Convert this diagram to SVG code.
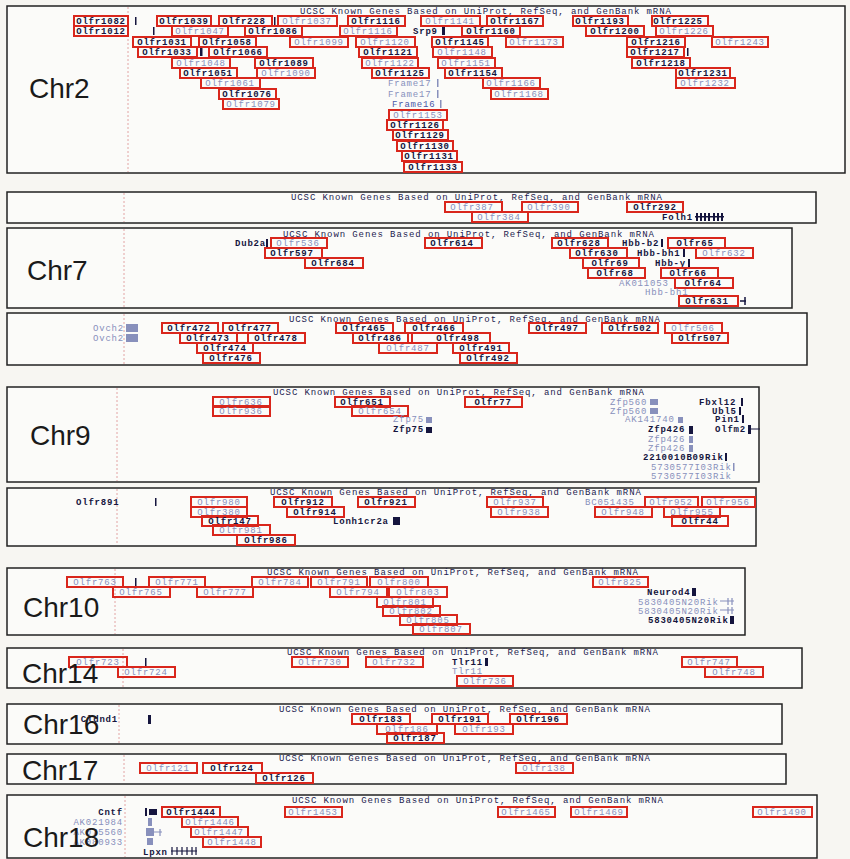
<svg xmlns="http://www.w3.org/2000/svg" width="850" height="859" viewBox="0 0 850 859">
<style>
.bg{fill:#f7f6f2}
.pb{fill:#fbfbf9;stroke:#222;stroke-width:1.5}
.dl{stroke:#e2a4a4;stroke-width:1;stroke-dasharray:2 2}
.hd{font-family:"Liberation Mono",monospace;font-size:9px;fill:#1c1c50;letter-spacing:0.9px}
.rb{fill:none;stroke:#d9261c;stroke-width:2}
.d,.ds,.de{font-family:"Liberation Mono",monospace;font-size:9px;font-weight:bold;fill:#15153e;letter-spacing:0.8px}
.l,.ls,.le{font-family:"Liberation Mono",monospace;font-size:9px;fill:#8890bc;letter-spacing:0.8px}
.d,.l{text-anchor:middle}
.de,.le{text-anchor:end}
.fb{font-family:"Liberation Mono",monospace;font-size:9px;fill:#4a58a8;letter-spacing:0.8px}
.ch{font-family:"Liberation Sans",Arial,sans-serif;font-size:28px;fill:#1a1a1a}
.tk{fill:#15153e}
.tl{fill:#8890bc}
</style>
<rect class="bg" x="0" y="0" width="850" height="859"/>

<g id="chr2">
<rect class="pb" x="7" y="6" width="838" height="167"/>
<line class="dl" x1="128" y1="7" x2="128" y2="172"/>
<text class="ch" x="29" y="98">Chr2</text>
<text class="hd" x="300" y="14">UCSC Known Genes Based on UniProt, RefSeq, and GenBank mRNA</text>
<rect class="rb" x="74" y="16" width="54" height="10"/><text class="d" x="101" y="24">Olfr1082</text>
<rect class="tk" x="135" y="17" width="1.5" height="8"/>
<rect class="rb" x="157" y="16" width="54" height="10"/><text class="d" x="184" y="24">Olfr1039</text>
<rect class="rb" x="219" y="16" width="53" height="10"/><text class="d" x="244" y="24">Olfr228</text>
<rect class="tk" x="274" y="17" width="1.5" height="8"/>
<rect class="rb" x="278" y="16" width="59" height="10"/><text class="l" x="307" y="24">Olfr1037</text>
<rect class="rb" x="348" y="16" width="57" height="10"/><text class="d" x="376" y="24">Olfr1116</text>
<rect class="rb" x="421" y="16" width="59" height="10"/><text class="l" x="450" y="24">Olfr1141</text>
<rect class="rb" x="487" y="16" width="56" height="10"/><text class="d" x="515" y="24">Olfr1167</text>
<rect class="rb" x="573" y="16" width="55" height="10"/><text class="d" x="600" y="24">Olfr1193</text>
<rect class="rb" x="652" y="16" width="56" height="10"/><text class="d" x="678" y="24">Olfr1225</text>

<rect class="rb" x="74" y="26" width="54" height="10"/><text class="d" x="101" y="34">Olfr1012</text>
<rect class="tk" x="153" y="27" width="1.5" height="8"/>
<rect class="rb" x="172" y="26" width="56" height="10"/><text class="l" x="200" y="34">Olfr1047</text>
<rect class="rb" x="245" y="26" width="57" height="10"/><text class="d" x="273" y="34">Olfr1086</text>
<rect class="rb" x="340" y="26" width="57" height="10"/><text class="l" x="368" y="34">Olfr1116</text>
<text class="ds" x="413" y="34">Srp9</text><rect class="tk" x="442" y="27" width="3" height="8"/>
<rect class="rb" x="462" y="26" width="58" height="10"/><text class="d" x="491" y="34">Olfr1160</text>
<rect class="rb" x="586" y="26" width="58" height="10"/><text class="d" x="615" y="34">Olfr1200</text>
<rect class="rb" x="656" y="26" width="57" height="10"/><text class="l" x="684" y="34">Olfr1226</text>

<rect class="rb" x="133" y="37" width="58" height="10"/><text class="d" x="162" y="45">Olfr1031</text>
<rect class="rb" x="199" y="37" width="57" height="10"/><text class="d" x="227" y="45">Olfr1058</text>
<rect class="rb" x="290" y="37" width="58" height="10"/><text class="l" x="319" y="45">Olfr1099</text>
<rect class="rb" x="356" y="37" width="59" height="10"/><text class="l" x="385" y="45">Olfr1120</text>
<rect class="rb" x="432" y="37" width="56" height="10"/><text class="d" x="460" y="45">Olfr1145</text>
<rect class="rb" x="506" y="37" width="57" height="10"/><text class="l" x="534" y="45">Olfr1173</text>
<rect class="rb" x="627" y="37" width="58" height="10"/><text class="d" x="656" y="45">Olfr1216</text>
<rect class="rb" x="712" y="37" width="56" height="10"/><text class="l" x="740" y="45">Olfr1243</text>

<rect class="rb" x="138" y="47" width="59" height="10"/><text class="d" x="167" y="55">Olfr1033</text>
<rect class="tk" x="200" y="48" width="2.5" height="8"/>
<rect class="rb" x="209" y="47" width="58" height="10"/><text class="d" x="238" y="55">Olfr1066</text>
<rect class="rb" x="359" y="47" width="58" height="10"/><text class="d" x="388" y="55">Olfr1121</text>
<rect class="rb" x="433" y="47" width="59" height="10"/><text class="l" x="462" y="55">Olfr1148</text>
<rect class="rb" x="627" y="47" width="57" height="10"/><text class="d" x="655" y="55">Olfr1217</text>
<rect class="tk" x="687" y="48" width="1.5" height="8"/>

<rect class="rb" x="172" y="58" width="58" height="10"/><text class="l" x="201" y="66">Olfr1048</text>
<rect class="rb" x="255" y="58" width="58" height="10"/><text class="d" x="284" y="66">Olfr1089</text>
<rect class="rb" x="362" y="58" width="56" height="10"/><text class="l" x="390" y="66">Olfr1122</text>
<rect class="rb" x="438" y="58" width="57" height="10"/><text class="l" x="466" y="66">Olfr1151</text>
<rect class="rb" x="632" y="58" width="58" height="10"/><text class="d" x="661" y="66">Olfr1218</text>

<rect class="rb" x="180" y="68" width="57" height="10"/><text class="d" x="208" y="76">Olfr1051</text>
<rect class="rb" x="257" y="68" width="58" height="10"/><text class="l" x="286" y="76">Olfr1090</text>
<rect class="rb" x="372" y="68" width="57" height="10"/><text class="d" x="400" y="76">Olfr1125</text>
<rect class="rb" x="445" y="68" width="57" height="10"/><text class="d" x="473" y="76">Olfr1154</text>
<rect class="rb" x="676" y="68" width="54" height="10"/><text class="d" x="703" y="76">Olfr1231</text>

<rect class="rb" x="201" y="78" width="59" height="10"/><text class="l" x="230" y="86">Olfr1061</text>
<text class="ls" x="388" y="86">Frame17</text><rect class="tl" x="437" y="79" width="1.5" height="8"/>
<rect class="rb" x="483" y="78" width="57" height="10"/><text class="l" x="511" y="86">Olfr1166</text>
<rect class="rb" x="676" y="78" width="59" height="10"/><text class="l" x="705" y="86">Olfr1232</text>

<rect class="rb" x="219" y="89" width="57" height="10"/><text class="d" x="247" y="97">Olfr1076</text>
<text class="ls" x="388" y="97">Frame17</text><rect class="tl" x="437" y="90" width="1.5" height="8"/>
<rect class="rb" x="491" y="89" width="57" height="10"/><text class="l" x="519" y="97">Olfr1168</text>

<rect class="rb" x="223" y="99" width="56" height="10"/><text class="l" x="251" y="107">Olfr1079</text>
<text class="fb" x="392" y="107">Frame16</text><rect class="tl" x="440" y="100" width="1.5" height="8"/>

<rect class="rb" x="389" y="110" width="58" height="10"/><text class="l" x="418" y="118">Olfr1153</text>
<rect class="rb" x="387" y="120" width="56" height="10"/><text class="d" x="415" y="128">Olfr1126</text>
<rect class="rb" x="393" y="130" width="55" height="10"/><text class="d" x="420" y="138">Olfr1129</text>
<rect class="rb" x="397" y="141" width="56" height="10"/><text class="d" x="425" y="149">Olfr1130</text>
<rect class="rb" x="402" y="151" width="55" height="10"/><text class="d" x="429" y="159">Olfr1131</text>
<rect class="rb" x="404" y="162" width="58" height="10"/><text class="d" x="433" y="170">Olfr1133</text>
</g>

<g id="chr7a">
<rect class="pb" x="7" y="192" width="809" height="31"/>
<line class="dl" x1="124" y1="193" x2="124" y2="222"/>
<text class="hd" x="291" y="200">UCSC Known Genes Based on UniProt, RefSeq, and GenBank mRNA</text>
<rect class="rb" x="445" y="202" width="57" height="10"/><text class="l" x="472" y="210">Olfr387</text>
<rect class="rb" x="522" y="202" width="56" height="10"/><text class="l" x="549" y="210">Olfr390</text>
<rect class="rb" x="627" y="202" width="56" height="10"/><text class="d" x="655" y="210">Olfr292</text>
<rect class="rb" x="472" y="212" width="56" height="10"/><text class="l" x="499" y="220">Olfr384</text>
<text class="ds" x="662" y="220">Folh1</text>
<rect class="tk" x="696" y="213" width="2" height="8"/><rect class="tk" x="700" y="213" width="2" height="8"/><rect class="tk" x="704" y="213" width="2" height="8"/><rect class="tk" x="708" y="213" width="2" height="8"/><rect class="tk" x="713" y="213" width="2" height="8"/><rect class="tk" x="717" y="213" width="2" height="8"/><rect class="tk" x="721" y="213" width="2" height="8"/><rect class="tk" x="695" y="216" width="29" height="1.5"/>
</g>

<g id="chr7b">
<rect class="pb" x="7" y="228" width="785" height="80"/>
<line class="dl" x1="124" y1="229" x2="124" y2="307"/>
<text class="ch" x="27" y="280">Chr7</text>
<text class="hd" x="283" y="237">UCSC Known Genes Based on UniProt, RefSeq, and GenBank mRNA</text>
<text class="ds" x="235" y="246">Dub2a</text><rect class="tk" x="266" y="239" width="2" height="8"/>
<rect class="rb" x="271" y="238" width="56" height="10"/><text class="l" x="298" y="246">Olfr536</text>
<rect class="rb" x="425" y="238" width="57" height="10"/><text class="d" x="452" y="246">Olfr614</text>
<rect class="rb" x="552" y="238" width="56" height="10"/><text class="d" x="579" y="246">Olfr628</text>
<text class="ds" x="622" y="246">Hbb-b2</text><rect class="tk" x="661" y="239" width="2" height="8"/>
<rect class="rb" x="668" y="238" width="57" height="10"/><text class="d" x="695" y="246">Olfr65</text>
<rect class="rb" x="265" y="248" width="57" height="10"/><text class="d" x="292" y="256">Olfr597</text>
<rect class="rb" x="570" y="248" width="57" height="10"/><text class="d" x="597" y="256">Olfr630</text>
<text class="ds" x="637" y="256">Hbb-bh1</text><rect class="tk" x="683" y="249" width="2" height="8"/>
<rect class="rb" x="696" y="248" width="57" height="10"/><text class="l" x="724" y="256">Olfr632</text>
<rect class="rb" x="305" y="258" width="58" height="10"/><text class="d" x="333" y="266">Olfr684</text>
<rect class="rb" x="583" y="258" width="56" height="10"/><text class="d" x="610" y="266">Olfr69</text>
<text class="ds" x="655" y="266">Hbb-y</text><rect class="tk" x="688" y="259" width="2" height="8"/>
<rect class="rb" x="588" y="268" width="57" height="10"/><text class="d" x="615" y="276">Olfr68</text>
<rect class="rb" x="661" y="268" width="57" height="10"/><text class="d" x="688" y="276">Olfr66</text>
<text class="ls" x="619" y="286">AK011053</text>
<rect class="rb" x="675" y="278" width="58" height="10"/><text class="d" x="703" y="286">Olfr64</text>
<text class="ls" x="645" y="295">Hbb-bh1</text>
<rect class="rb" x="679" y="296" width="59" height="10"/><text class="d" x="707" y="304">Olfr631</text>
<path d="M740 301 h6 M745 297 v8" stroke="#15153e" stroke-width="1.5" fill="none"/>
</g>

<g id="chr7c">
<rect class="pb" x="7" y="313" width="800" height="52"/>
<line class="dl" x1="124" y1="314" x2="124" y2="364"/>
<text class="hd" x="289" y="322">UCSC Known Genes Based on UniProt, RefSeq, and GenBank mRNA</text>
<text class="ls" x="93" y="331">Ovch2</text><text class="ls" x="93" y="341">Ovch2</text>
<rect class="tl" x="126" y="324" width="12" height="8"/><rect class="tl" x="126" y="334" width="12" height="8"/>
<rect class="rb" x="162" y="323" width="56" height="10"/><text class="d" x="189" y="331">Olfr472</text>
<rect class="rb" x="223" y="323" width="55" height="10"/><text class="d" x="250" y="331">Olfr477</text>
<rect class="rb" x="336" y="323" width="57" height="10"/><text class="d" x="364" y="331">Olfr465</text>
<rect class="rb" x="405" y="323" width="58" height="10"/><text class="d" x="434" y="331">Olfr466</text>
<rect class="rb" x="529" y="323" width="57" height="10"/><text class="d" x="557" y="331">Olfr497</text>
<rect class="rb" x="602" y="323" width="56" height="10"/><text class="d" x="630" y="331">Olfr502</text>
<rect class="rb" x="665" y="323" width="57" height="10"/><text class="l" x="693" y="331">Olfr506</text>
<rect class="rb" x="180" y="333" width="57" height="10"/><text class="d" x="208" y="341">Olfr473</text>
<rect class="rb" x="248" y="333" width="57" height="10"/><text class="d" x="276" y="341">Olfr478</text>
<rect class="rb" x="353" y="333" width="55" height="10"/><text class="d" x="380" y="341">Olfr486</text>
<rect class="rb" x="412" y="333" width="78" height="10"/><text class="d" x="458" y="341">Olfr498</text>
<rect class="rb" x="672" y="333" width="56" height="10"/><text class="d" x="700" y="341">Olfr507</text>
<rect class="rb" x="197" y="343" width="56" height="10"/><text class="d" x="225" y="351">Olfr474</text>
<rect class="rb" x="379" y="343" width="58" height="10"/><text class="l" x="408" y="351">Olfr487</text>
<rect class="rb" x="453" y="343" width="56" height="10"/><text class="d" x="481" y="351">Olfr491</text>
<rect class="rb" x="203" y="353" width="57" height="10"/><text class="d" x="231" y="361">Olfr476</text>
<rect class="rb" x="460" y="353" width="57" height="10"/><text class="d" x="488" y="361">Olfr492</text>
</g>

<g id="chr9a">
<rect class="pb" x="7" y="387" width="752" height="95"/>
<line class="dl" x1="117" y1="388" x2="117" y2="481"/>
<text class="ch" x="30" y="445">Chr9</text>
<text class="hd" x="273" y="395">UCSC Known Genes Based on UniProt, RefSeq, and GenBank mRNA</text>
<rect class="rb" x="213" y="397" width="57" height="10"/><text class="l" x="241" y="405">Olfr636</text>
<rect class="rb" x="335" y="397" width="55" height="10"/><text class="d" x="362" y="405">Olfr651</text>
<rect class="rb" x="465" y="397" width="57" height="10"/><text class="d" x="493" y="405">Olfr77</text>
<text class="ls" x="610" y="405">Zfp560</text><rect class="tl" x="650" y="399" width="8" height="6"/>
<text class="ds" x="699" y="405">Fbxl12</text><rect class="tk" x="741" y="398" width="2" height="8"/>
<rect class="rb" x="213" y="406" width="57" height="10"/><text class="l" x="241" y="414">Olfr936</text>
<rect class="rb" x="352" y="406" width="56" height="10"/><text class="l" x="380" y="414">Olfr654</text>
<text class="ls" x="610" y="414">Zfp560</text><rect class="tl" x="650" y="408" width="8" height="6"/>
<text class="ds" x="712" y="414">Ubl5</text><rect class="tk" x="739" y="407" width="2" height="8"/>
<text class="ls" x="393" y="422">Zfp75</text><rect class="tl" x="426" y="417" width="6" height="6"/>
<text class="ls" x="625" y="422">AK141740</text><rect class="tl" x="678" y="417" width="5" height="6"/>
<text class="ds" x="715" y="422">Pin1</text><rect class="tk" x="742" y="415" width="2" height="8"/>
<text class="ds" x="393" y="432">Zfp75</text><rect class="tk" x="426" y="427" width="6" height="6"/>
<text class="ds" x="648" y="432">Zfp426</text><rect class="tk" x="689" y="426" width="4" height="8"/>
<text class="ds" x="715" y="432">Olfm2</text><rect class="tk" x="748" y="425" width="3" height="9"/><line x1="751" y1="429" x2="760" y2="429" stroke="#15153e" stroke-width="1"/>
<text class="ls" x="648" y="442">Zfp426</text><rect class="tl" x="689" y="436" width="4" height="7"/>
<text class="ls" x="648" y="451">Zfp426</text><rect class="tl" x="689" y="445" width="4" height="7"/>
<text class="ds" x="643" y="460">2210010B09Rik</text><rect class="tk" x="725" y="453" width="2" height="8"/>
<text class="ls" x="651" y="470">5730577I03Rik</text><rect class="tl" x="733" y="463" width="1.5" height="8"/>
<text class="ls" x="651" y="479">5730577I03Rik</text>
</g>

<g id="chr9b">
<rect class="pb" x="7" y="488" width="749" height="58"/>
<line class="dl" x1="117" y1="489" x2="117" y2="545"/>
<text class="hd" x="270" y="495">UCSC Known Genes Based on UniProt, RefSeq, and GenBank mRNA</text>
<text class="ds" x="76" y="505">Olfr891</text><rect class="tk" x="155" y="498" width="1.5" height="8"/>
<rect class="rb" x="191" y="497" width="56" height="10"/><text class="l" x="219" y="505">Olfr980</text>
<rect class="rb" x="274" y="497" width="58" height="10"/><text class="d" x="303" y="505">Olfr912</text>
<rect class="rb" x="358" y="497" width="57" height="10"/><text class="d" x="386" y="505">Olfr921</text>
<rect class="rb" x="487" y="497" width="56" height="10"/><text class="l" x="515" y="505">Olfr937</text>
<text class="ls" x="585" y="505">BC051435</text>
<rect class="rb" x="645" y="497" width="53" height="10"/><text class="l" x="671" y="505">Olfr952</text>
<rect class="rb" x="702" y="497" width="53" height="10"/><text class="l" x="728" y="505">Olfr956</text>
<rect class="rb" x="191" y="507" width="56" height="10"/><text class="l" x="219" y="515">Olfr380</text>
<rect class="rb" x="287" y="507" width="57" height="10"/><text class="d" x="315" y="515">Olfr914</text>
<rect class="rb" x="491" y="507" width="57" height="10"/><text class="l" x="519" y="515">Olfr938</text>
<rect class="rb" x="595" y="507" width="57" height="10"/><text class="l" x="623" y="515">Olfr948</text>
<rect class="rb" x="664" y="507" width="56" height="10"/><text class="l" x="692" y="515">Olfr955</text>
<rect class="rb" x="202" y="516" width="56" height="10"/><text class="d" x="230" y="524">Olfr147</text>
<text class="ds" x="333" y="524">Lonh1cr2a</text><rect class="tk" x="393" y="517" width="7" height="8"/>
<rect class="rb" x="672" y="516" width="56" height="10"/><text class="d" x="700" y="524">Olfr44</text>
<rect class="rb" x="213" y="525" width="57" height="10"/><text class="l" x="241" y="533">Olfr981</text>
<rect class="rb" x="237" y="535" width="58" height="10"/><text class="d" x="266" y="543">Olfr986</text>
</g>

<g id="chr10">
<rect class="pb" x="7" y="568" width="738" height="67"/>
<line class="dl" x1="115" y1="569" x2="115" y2="634"/>
<text class="ch" x="23" y="617">Chr10</text>
<text class="hd" x="267" y="575">UCSC Known Genes Based on UniProt, RefSeq, and GenBank mRNA</text>
<rect class="rb" x="67" y="577" width="56" height="10"/><text class="l" x="95" y="585">Olfr763</text>
<rect class="tk" x="135" y="578" width="1.5" height="8"/>
<rect class="rb" x="149" y="577" width="56" height="10"/><text class="l" x="177" y="585">Olfr771</text>
<rect class="rb" x="252" y="577" width="56" height="10"/><text class="l" x="280" y="585">Olfr784</text>
<rect class="rb" x="311" y="577" width="56" height="10"/><text class="l" x="339" y="585">Olfr791</text>
<rect class="rb" x="370" y="577" width="58" height="10"/><text class="l" x="399" y="585">Olfr800</text>
<rect class="rb" x="593" y="577" width="55" height="10"/><text class="l" x="620" y="585">Olfr825</text>
<rect class="rb" x="113" y="587" width="57" height="10"/><text class="l" x="141" y="595">Olfr765</text>
<rect class="rb" x="197" y="587" width="56" height="10"/><text class="l" x="225" y="595">Olfr777</text>
<rect class="rb" x="330" y="587" width="57" height="10"/><text class="l" x="358" y="595">Olfr794</text>
<rect class="rb" x="389" y="587" width="58" height="10"/><text class="l" x="418" y="595">Olfr803</text>
<text class="ds" x="647" y="595">Neurod4</text><rect class="tk" x="692" y="588" width="4" height="8"/>
<rect class="rb" x="377" y="597" width="56" height="10"/><text class="l" x="405" y="605">Olfr801</text>
<text class="ls" x="638" y="605">5830405N20Rik</text><path d="M720 601 h14 M728 598 v7 M732 598 v7" stroke="#8890bc" stroke-width="1.2" fill="none"/>
<rect class="rb" x="383" y="606" width="57" height="10"/><text class="l" x="411" y="614">Olfr802</text>
<text class="ls" x="638" y="614">5830405N20Rik</text><path d="M720 610 h14 M728 607 v7 M732 607 v7" stroke="#8890bc" stroke-width="1.2" fill="none"/>
<rect class="rb" x="400" y="615" width="57" height="10"/><text class="l" x="428" y="623">Olfr805</text>
<text class="ds" x="648" y="623">5830405N20Rik</text><rect class="tk" x="730" y="616" width="4" height="8"/>
<rect class="rb" x="413" y="624" width="57" height="10"/><text class="l" x="441" y="632">Olfr807</text>
</g>

<g id="chr14">
<rect class="pb" x="7" y="648" width="795" height="40"/>
<line class="dl" x1="123" y1="649" x2="123" y2="687"/>
<text class="hd" x="287" y="655">UCSC Known Genes Based on UniProt, RefSeq, and GenBank mRNA</text>
<rect class="rb" x="69" y="657" width="58" height="10"/><text class="l" x="98" y="665">Olfr723</text>
<rect class="tk" x="145" y="658" width="1.5" height="8"/>
<rect class="rb" x="292" y="657" width="56" height="10"/><text class="l" x="320" y="665">Olfr730</text>
<rect class="rb" x="366" y="657" width="57" height="10"/><text class="l" x="394" y="665">Olfr732</text>
<text class="ds" x="452" y="665">Tlr11</text><rect class="tk" x="485" y="658" width="3" height="8"/>
<rect class="rb" x="682" y="657" width="55" height="10"/><text class="l" x="709" y="665">Olfr747</text>
<rect class="rb" x="118" y="667" width="57" height="10"/><text class="l" x="146" y="675">Olfr724</text>
<text class="ls" x="452" y="674">Tlr11</text>
<rect class="rb" x="705" y="667" width="58" height="10"/><text class="l" x="734" y="675">Olfr748</text>
<rect class="rb" x="457" y="676" width="56" height="10"/><text class="l" x="485" y="684">Olfr736</text>
<text class="ch" x="22" y="683">Chr14</text>
</g>

<g id="chr16">
<rect class="pb" x="7" y="704" width="775" height="40"/>
<line class="dl" x1="119" y1="705" x2="119" y2="743"/>
<text class="de" x="118" y="722">Cldnd1</text>
<rect class="tk" x="148" y="715" width="3" height="9"/>
<text class="hd" x="279" y="712">UCSC Known Genes Based on UniProt, RefSeq, and GenBank mRNA</text>
<rect class="rb" x="352" y="714" width="58" height="10"/><text class="d" x="381" y="722">Olfr183</text>
<rect class="rb" x="432" y="714" width="56" height="10"/><text class="d" x="460" y="722">Olfr191</text>
<rect class="rb" x="510" y="714" width="57" height="10"/><text class="d" x="538" y="722">Olfr196</text>
<rect class="rb" x="377" y="724" width="60" height="10"/><text class="l" x="407" y="732">Olfr186</text>
<rect class="rb" x="455" y="724" width="58" height="10"/><text class="l" x="484" y="732">Olfr193</text>
<rect class="rb" x="387" y="733" width="57" height="10"/><text class="d" x="415" y="741">Olfr187</text>
<text class="ch" x="23" y="734">Chr16</text>
</g>

<g id="chr17">
<rect class="pb" x="7" y="754" width="779" height="30"/>
<line class="dl" x1="124" y1="755" x2="124" y2="783"/>
<text class="ch" x="22" y="780">Chr17</text>
<text class="hd" x="279" y="761">UCSC Known Genes Based on UniProt, RefSeq, and GenBank mRNA</text>
<rect class="rb" x="140" y="763" width="57" height="10"/><text class="l" x="168" y="771">Olfr121</text>
<rect class="rb" x="203" y="763" width="59" height="10"/><text class="d" x="232" y="771">Olfr124</text>
<rect class="rb" x="516" y="763" width="57" height="10"/><text class="l" x="544" y="771">Olfr138</text>
<rect class="rb" x="256" y="773" width="57" height="10"/><text class="d" x="284" y="781">Olfr126</text>
</g>

<g id="chr18">
<rect class="pb" x="7" y="795" width="810" height="63"/>
<line class="dl" x1="125" y1="796" x2="125" y2="857"/>
<text class="hd" x="292" y="803">UCSC Known Genes Based on UniProt, RefSeq, and GenBank mRNA</text>
<text class="de" x="123" y="815">Cntf</text>
<text class="le" x="123" y="825">AK021984</text>
<text class="le" x="123" y="835">AK075560</text>
<text class="le" x="123" y="845">AK080933</text>
<rect class="tk" x="145" y="808" width="2" height="8"/><rect class="tk" x="149" y="809" width="8" height="6"/>
<rect class="tl" x="148" y="818" width="4" height="8"/>
<rect class="tl" x="146" y="828" width="8" height="8"/><path d="M154 832 h8 M160 829 v7" stroke="#8890bc" stroke-width="1.2" fill="none"/>
<rect class="tl" x="147" y="838" width="6" height="7"/>
<rect class="rb" x="162" y="807" width="58" height="10"/><text class="d" x="191" y="815">Olfr1444</text>
<rect class="rb" x="285" y="807" width="57" height="10"/><text class="l" x="313" y="815">Olfr1453</text>
<rect class="rb" x="498" y="807" width="57" height="10"/><text class="l" x="526" y="815">Olfr1465</text>
<rect class="rb" x="571" y="807" width="56" height="10"/><text class="l" x="599" y="815">Olfr1469</text>
<rect class="rb" x="753" y="807" width="59" height="10"/><text class="l" x="782" y="815">Olfr1490</text>
<rect class="rb" x="182" y="817" width="56" height="10"/><text class="l" x="210" y="825">Olfr1446</text>
<rect class="rb" x="191" y="827" width="57" height="10"/><text class="l" x="219" y="835">Olfr1447</text>
<rect class="rb" x="203" y="837" width="58" height="10"/><text class="l" x="232" y="845">Olfr1448</text>
<text class="ds" x="143" y="855">Lpxn</text>
<path d="M171 851 h26 M172 847 v8 M177 847 v8 M182 847 v8 M187 847 v8 M192 847 v8 M196 847 v8" stroke="#15153e" stroke-width="1.2" fill="none"/>
<text class="ch" x="23" y="847">Chr18</text>
</g>
</svg>
